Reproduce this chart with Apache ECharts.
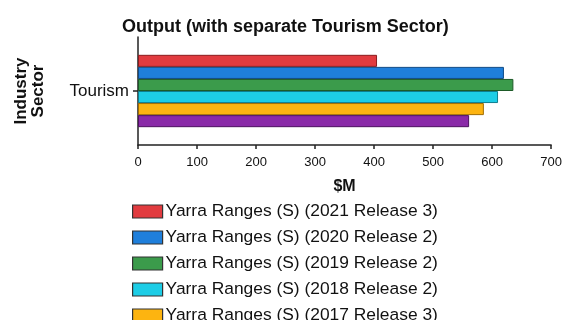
<!DOCTYPE html>
<html>
<head>
<meta charset="utf-8">
<script src="https://cdn.jsdelivr.net/npm/echarts@6/dist/echarts.min.js"></script>
<style>
  html, body { margin: 0; padding: 0; background: #fff; }
  #chart { width: 565px; height: 320px; }
</style>
</head>
<body>
<div id="chart"></div>
<script>
// Output by release, Tourism sector ($M)
const categories = ['Tourism'];
const seriesNames = [
  'Yarra Ranges (S) (2021 Release 3)',
  'Yarra Ranges (S) (2020 Release 2)',
  'Yarra Ranges (S) (2019 Release 2)',
  'Yarra Ranges (S) (2018 Release 2)',
  'Yarra Ranges (S) (2017 Release 3)',
  'Yarra Ranges (S) (2016 Release 2)'
];
const release2021 = [405];
const release2020 = [620];
const release2019 = [636];
const release2018 = [610];
const release2017 = [586];
const release2016 = [561];
const xTicks = [0, 100, 200, 300, 400, 500, 600, 700];

const values = [release2021, release2020, release2019, release2018, release2017, release2016];
const fills = ['#e13b3f', '#1f7fdb', '#3b9b4b', '#1dcde6', '#fdb410', '#8a2aa8'];
const edges = ['#8a1c1e', '#0f4a86', '#1d5a27', '#0e7d8e', '#a06c00', '#4d1160'];

const font = 'Arial, "Liberation Sans", Helvetica, sans-serif';

const chart = echarts.init(document.getElementById('chart'), null, { renderer: 'canvas' });

const series = seriesNames.map((name, i) => ({
  name: name,
  type: 'bar',
  data: values[i],
  barGap: '0%',
  barCategoryGap: '33%',
  itemStyle: { color: fills[i], borderColor: edges[i], borderWidth: 1 }
}));

chart.setOption({
  animation: false,
  backgroundColor: '#ffffff',
  textStyle: { fontFamily: font },
  title: {
    text: 'Output (with separate Tourism Sector)',
    left: 117,
    top: 13,
    textStyle: { fontSize: 18, fontWeight: 'bold', color: '#111', fontFamily: font }
  },
  legend: {
    orient: 'vertical',
    left: 127,
    top: 198,
    height: 300,
    itemWidth: 30,
    itemHeight: 13,
    itemGap: 9,
    icon: 'rect',
    data: seriesNames,
    itemStyle: { borderColor: '#333', borderWidth: 1.2 },
    textStyle: { fontSize: 17.4, lineHeight: 14, color: '#111', fontFamily: font, padding: [0, 0, 0, -2] }
  },
  grid: { left: 138, right: 10, top: 37, bottom: 175, containLabel: false },
  xAxis: {
    type: 'value',
    min: xTicks[0],
    max: xTicks[xTicks.length - 1],
    interval: 100,
    name: '$M',
    nameLocation: 'middle',
    nameGap: 34,
    nameTextStyle: { fontSize: 16, fontWeight: 'bold', color: '#111', fontFamily: font },
    axisLine: { show: true, lineStyle: { color: '#222', width: 1.5 } },
    axisTick: { show: true, length: 4, lineStyle: { color: '#222', width: 1.5 } },
    axisLabel: { fontSize: 13, color: '#111', margin: 11, fontFamily: font },
    splitLine: { show: false }
  },
  yAxis: {
    type: 'category',
    data: categories,
    inverse: true,
    name: 'Industry\nSector',
    nameLocation: 'middle',
    nameGap: 91,
    nameRotate: 90,
    nameTextStyle: { fontSize: 17, fontWeight: 'bold', color: '#111', fontFamily: font, lineHeight: 17 },
    axisLine: { show: true, lineStyle: { color: '#222', width: 1.5 } },
    axisTick: { show: true, length: 5, alignWithLabel: true, lineStyle: { color: '#222', width: 1.5 } },
    axisLabel: { fontSize: 17, color: '#111', margin: 9, fontFamily: font },
    splitLine: { show: false }
  },
  series: series
});
</script>
</body>
</html>
